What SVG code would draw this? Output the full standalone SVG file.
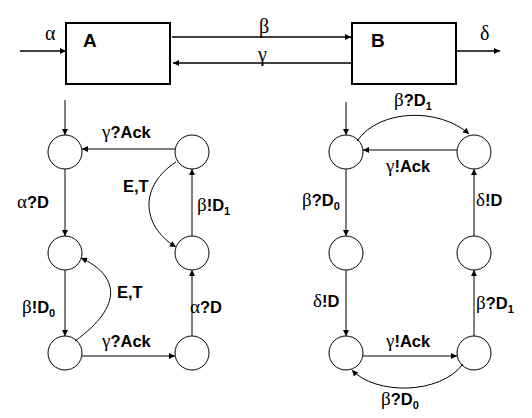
<svg xmlns="http://www.w3.org/2000/svg" width="532" height="418" viewBox="0 0 532 418">
<style>
.box{fill:#fff;stroke:#000;stroke-width:2}
.st{fill:#fff;stroke:#000;stroke-width:1}
.e{fill:none;stroke:#000;stroke-width:1;marker-end:url(#ah)}
.te{fill:none;stroke:#000;stroke-width:1.6;marker-end:url(#ah)}
.lb{font-family:"Liberation Sans",Arial,sans-serif;font-weight:bold;font-size:16.5px;fill:#000}
.gk{font-family:"Liberation Serif","Times New Roman",serif;font-weight:normal;font-size:19px}
.sub{font-size:11px}
.tl{font-family:"Liberation Serif","Times New Roman",serif;font-size:20px;fill:#000}
.nm{font-family:"Liberation Sans",Arial,sans-serif;font-weight:bold;font-size:19px;fill:#000}
</style>
<defs>
<marker id="ah" viewBox="0 0 10 10" refX="10" refY="5" markerWidth="8" markerHeight="6" orient="auto" markerUnits="userSpaceOnUse"><path d="M0,0 L10,5 L0,10 z" fill="#000"/></marker>
</defs>
<rect width="532" height="418" fill="#fff"/>
<g id="A"><rect class="box" x="66" y="23" width="104" height="61"/><text class="nm" x="83" y="47">A</text></g>
<g id="B"><rect class="box" x="352" y="23" width="104" height="61"/><text class="nm" x="371" y="47">B</text></g>
<g id="L1"><circle class="st" cx="65" cy="152" r="17"/></g>
<g id="L2"><circle class="st" cx="65" cy="253" r="17"/></g>
<g id="L3"><circle class="st" cx="65" cy="353" r="17"/></g>
<g id="L4"><circle class="st" cx="192" cy="353" r="17"/></g>
<g id="L5"><circle class="st" cx="192" cy="253" r="17"/></g>
<g id="L6"><circle class="st" cx="192" cy="152" r="17"/></g>
<g id="R1"><circle class="st" cx="346" cy="152" r="17"/></g>
<g id="R2"><circle class="st" cx="346" cy="253" r="17"/></g>
<g id="R3"><circle class="st" cx="346" cy="353" r="17"/></g>
<g id="R4"><circle class="st" cx="474" cy="353" r="17"/></g>
<g id="R5"><circle class="st" cx="474" cy="253" r="17"/></g>
<g id="R6"><circle class="st" cx="474" cy="152" r="17"/></g>
<g id="connectors">
<path class="te" d="M20,51 L66,51"/>
<path class="te" d="M172,37 L351,37"/>
<path class="te" d="M351,63 L173,63"/>
<path class="te" d="M456,51 L500,51"/>
<path class="e" d="M65,100 L65,135"/>
<path class="e" d="M65,169 L65,236"/>
<path class="e" d="M65,270 L65,336"/>
<path class="e" d="M82,356 L175,356"/>
<path class="e" d="M192,336 L192,270"/>
<path class="e" d="M192,236 L192,169"/>
<path class="e" d="M175,149 L82,149"/>
<path class="e" d="M176,162 C140,185 140,225 176,247"/>
<path class="e" d="M75,341 C125,305 118,275 81,258"/>
<path class="e" d="M346,102 L346,135"/>
<path class="e" d="M346,169 L346,236"/>
<path class="e" d="M346,270 L346,336"/>
<path class="e" d="M363,356 L457,356"/>
<path class="e" d="M474,336 L474,270"/>
<path class="e" d="M474,236 L474,169"/>
<path class="e" d="M457,150 L363,150"/>
<path class="e" d="M357,141 C380,108 440,108 469,134"/>
<path class="e" d="M463,364 C440,395 375,395 352,370"/>
</g>
<g id="labels">
<text class="tl" x="45" y="40">α</text>
<text class="tl" x="259" y="33">β</text>
<text class="tl" x="258" y="61">γ</text>
<text class="tl" x="480" y="40">δ</text>
<text class="lb" x="102" y="138"><tspan class="gk">γ</tspan>?Ack</text>
<text class="lb" x="17" y="208"><tspan class="gk">α</tspan>?D</text>
<text class="lb" x="123" y="192">E,T</text>
<text class="lb" x="197" y="211"><tspan class="gk">β</tspan>!D<tspan class="sub" dy="4">1</tspan></text>
<text class="lb" x="22" y="313"><tspan class="gk">β</tspan>!D<tspan class="sub" dy="4">0</tspan></text>
<text class="lb" x="117" y="298">E,T</text>
<text class="lb" x="102" y="347"><tspan class="gk">γ</tspan>?Ack</text>
<text class="lb" x="190" y="313"><tspan class="gk">α</tspan>?D</text>
<text class="lb" x="394" y="106"><tspan class="gk">β</tspan>?D<tspan class="sub" dy="4">1</tspan></text>
<text class="lb" x="386" y="172"><tspan class="gk">γ</tspan>!Ack</text>
<text class="lb" x="302" y="206"><tspan class="gk">β</tspan>?D<tspan class="sub" dy="4">0</tspan></text>
<text class="lb" x="476" y="206"><tspan class="gk">δ</tspan>!D</text>
<text class="lb" x="313" y="307"><tspan class="gk">δ</tspan>!D</text>
<text class="lb" x="476" y="309"><tspan class="gk">β</tspan>?D<tspan class="sub" dy="4">1</tspan></text>
<text class="lb" x="386" y="347"><tspan class="gk">γ</tspan>!Ack</text>
<text class="lb" x="381" y="405"><tspan class="gk">β</tspan>?D<tspan class="sub" dy="4">0</tspan></text>
</g>
</svg>
